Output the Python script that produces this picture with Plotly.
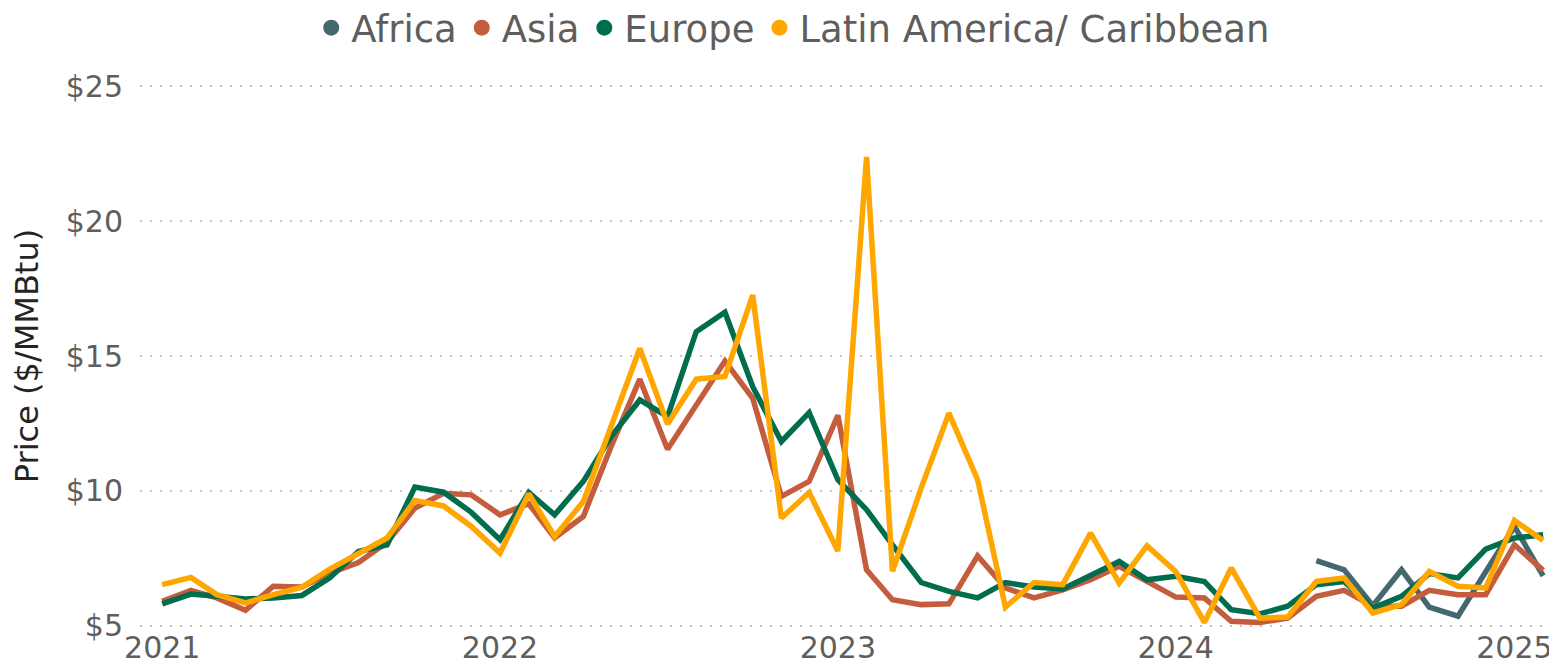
import plotly.graph_objects as go
import pandas as pd

dates = pd.date_range("2021-01-01", "2025-02-01", freq="MS")

asia = [5.90, 6.31, 6.03, 5.57, 6.46, 6.43, 6.95, 7.34, 8.09, 9.36, 9.91, 9.85,
        9.11, 9.52, 8.25, 9.05, 11.64, 14.14, 11.54, 13.19, 14.81, 13.43, 9.79, 10.35,
        12.80, 7.07, 5.96, 5.78, 5.81, 7.59, 6.40, 6.03, 6.33, 6.70, 7.20, 6.64,
        6.06, 6.03, 5.16, 5.12, 5.28, 6.09, 6.31, 5.72, 5.72, 6.31, 6.15, 6.15,
        8.00, 7.05]
europe = [5.81, 6.17, 6.09, 5.99, 6.03, 6.12, 6.77, 7.75, 8.00, 10.14, 9.95, 9.20,
          8.19, 9.94, 9.11, 10.35, 12.01, 13.37, 12.75, 15.90, 16.62, 13.86, 11.83, 12.90,
          10.41, 9.30, 8.00, 6.60, 6.27, 6.03, 6.60, 6.43, 6.36, 6.89, 7.38, 6.70,
          6.83, 6.64, 5.59, 5.44, 5.72, 6.52, 6.64, 5.65, 6.09, 6.93, 6.77, 7.84,
          8.25, 8.37]
latam = [6.52, 6.79, 6.15, 5.84, 6.15, 6.43, 7.10, 7.69, 8.25, 9.64, 9.44, 8.68,
         7.69, 9.89, 8.31, 9.60, 12.38, 15.28, 12.48, 14.14, 14.24, 17.26, 8.99, 9.94,
         7.77, 22.38, 7.01, 10.10, 12.88, 10.41, 5.69, 6.60, 6.52, 8.43, 6.58, 7.96,
         7.01, 5.12, 7.14, 5.28, 5.32, 6.64, 6.77, 5.47, 5.78, 7.01, 6.46, 6.40,
         8.90, 8.16]
africa = [None] * 41 + [7.41, 7.07, 5.74, 7.07, 5.69, 5.35, 7.00, 8.68, 6.85]

y_tick_values = [5, 10, 15, 20, 25]
y_tick_labels = ["$5", "$10", "$15", "$20", "$25"]

series = [
    ("Africa", africa, "#44686F"),
    ("Asia", asia, "#C45D3E"),
    ("Europe", europe, "#006E4E"),
    ("Latin America/ Caribbean", latam, "#FFA600"),
]

fig = go.Figure()
for name, vals, color in series:
    fig.add_trace(go.Scatter(x=dates, y=vals, mode="lines", name=name,
                             line=dict(color=color, width=5.5), showlegend=False,
                             connectgaps=False))
for name, vals, color in series:
    fig.add_trace(go.Scatter(x=[None], y=[None], mode="markers", name=name,
                             marker=dict(color=color, size=19), showlegend=True))

# the page body adds an 8px offset, so the figure is 8px smaller on each axis
fig.update_layout(
    width=1549, height=660,
    margin=dict(l=132, r=0, t=77, b=41, autoexpand=False),
    paper_bgcolor="white", plot_bgcolor="white",
    font=dict(family="DejaVu Sans", color="#605E5C"),
    legend=dict(orientation="h", x=0.461, xanchor="center", y=1.105, yanchor="middle",
                font=dict(size=37, color="#605E5C"), itemwidth=30,
                tracegroupgap=0, itemsizing="trace"),
    xaxis=dict(range=["2020-12-08", "2025-02-16"], showgrid=False, zeroline=False,
               tick0="2021-01-01", dtick="M12", tickformat="%Y",
               tickfont=dict(size=30, color="#605E5C"), ticks="", showline=False,
               automargin=False),
    yaxis=dict(range=[4.95, 25.05], tickvals=y_tick_values, ticktext=y_tick_labels,
               showgrid=True, gridcolor="#C8C6C4", griddash="2px,8px", gridwidth=1.5,
               zeroline=False, showline=False, ticks="", automargin=False,
               ticklabelstandoff=16,
               tickfont=dict(size=30, color="#605E5C"),
               title=dict(text="Price ($/MMBtu)", font=dict(size=32, color="#252423"),
                          standoff=18)),
)

fig.write_html("out.html")
